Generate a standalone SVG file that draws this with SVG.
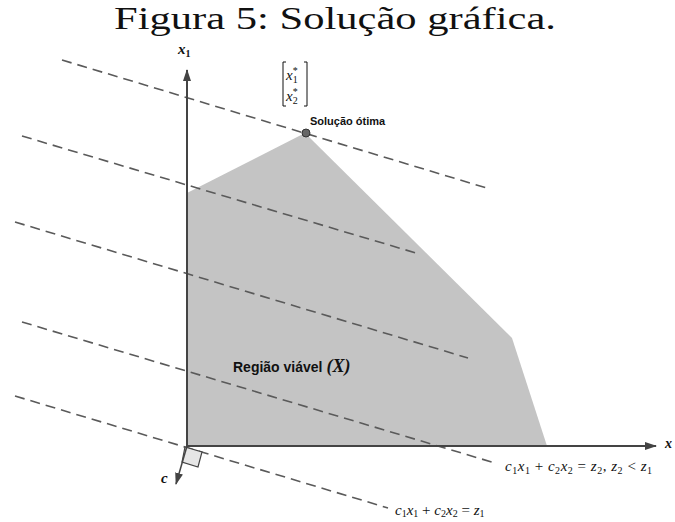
<svg xmlns="http://www.w3.org/2000/svg" width="675" height="522" viewBox="0 0 675 522">
<style>
.dash{stroke:#5a5a5a;stroke-width:1.6;stroke-dasharray:10,6;fill:none}
.axis{stroke:#444;stroke-width:2;fill:none}
.math{font-family:"Liberation Serif","DejaVu Serif",serif;font-style:italic;fill:#111}
.lbl{font-family:"Liberation Sans",Arial,sans-serif;font-weight:bold;fill:#111}
</style>
<defs>
<marker id="ah" viewBox="0 0 12 8" refX="11" refY="4" markerWidth="12" markerHeight="8" markerUnits="userSpaceOnUse" orient="auto">
<path d="M0,0 L12,4 L0,8 Z" fill="#444"/>
</marker>
</defs>
<rect width="675" height="522" fill="#fff"/>
<text x="114" y="29" font-family="'Liberation Serif','DejaVu Serif',serif" font-size="31" textLength="442" lengthAdjust="spacingAndGlyphs" fill="#111">Figura 5: Solução gráfica.</text>
<g id="region">
<polygon points="187,446 187,193 305,133 512,338 547,446" fill="#c4c4c4"/>
<text x="233" y="372" class="lbl" font-size="14">Região viável <tspan class="math" font-weight="bold" font-style="normal" font-size="18">(</tspan><tspan class="math" font-weight="bold" font-size="18">X</tspan><tspan class="math" font-weight="bold" font-style="normal" font-size="18">)</tspan></text>
</g>
<g id="connectors">
<line class="dash" x1="62" y1="60" x2="490" y2="189"/>
<line class="dash" x1="22" y1="136" x2="416" y2="253"/>
<line class="dash" x1="15" y1="222" x2="468" y2="358"/>
<line class="dash" x1="22" y1="322" x2="495" y2="463"/>
<line class="dash" x1="15" y1="396" x2="388" y2="508"/>
</g>
<g id="axes">
<line class="axis" x1="187" y1="447" x2="187" y2="70" marker-end="url(#ah)"/>
<line class="axis" x1="186" y1="446" x2="656" y2="446" marker-end="url(#ah)"/>
<polygon points="185,447 202,452 198,467 182,462" fill="#e6e6e6" stroke="#444" stroke-width="1.2"/>
<line x1="187" y1="446" x2="176" y2="484" stroke="#444" stroke-width="1.5" marker-end="url(#ah)"/>
<text x="178" y="54" class="math" font-size="15" font-weight="bold">x<tspan font-size="10" dy="3" font-style="normal">1</tspan></text>
<text x="665" y="448" class="math" font-size="14" font-weight="bold">x</text>
<text x="161" y="483" class="math" font-size="15" font-weight="bold">c</text>
</g>
<g id="optimum">
<circle cx="306" cy="133" r="4" fill="#666" stroke="#333" stroke-width="1"/>
<text x="310" y="125" class="lbl" font-size="11">Solução ótima</text>
<path d="M286,62 H283 V106 H286 M304,62 H307 V106 H304" fill="none" stroke="#111" stroke-width="1"/>
<text x="286" y="80" class="math" font-size="15">x<tspan font-size="10" dy="3" font-style="normal">1</tspan><tspan font-size="10" dy="-9" dx="-5" font-style="normal">*</tspan></text>
<text x="286" y="101" class="math" font-size="15">x<tspan font-size="10" dy="3" font-style="normal">2</tspan><tspan font-size="10" dy="-9" dx="-5" font-style="normal">*</tspan></text>
</g>
<g id="labels">
<text x="505" y="471" class="math" font-size="15" textLength="147" lengthAdjust="spacing">c<tspan font-size="10" dy="3" font-style="normal">1</tspan><tspan dy="-3">x</tspan><tspan font-size="10" dy="3" font-style="normal">1</tspan><tspan dy="-3" font-style="normal"> + </tspan><tspan>c</tspan><tspan font-size="10" dy="3" font-style="normal">2</tspan><tspan dy="-3">x</tspan><tspan font-size="10" dy="3" font-style="normal">2</tspan><tspan dy="-3" font-style="normal"> = </tspan><tspan>z</tspan><tspan font-size="10" dy="3" font-style="normal">2</tspan><tspan dy="-3" font-style="normal">, </tspan><tspan>z</tspan><tspan font-size="10" dy="3" font-style="normal">2</tspan><tspan dy="-3" font-style="normal"> &lt; </tspan><tspan>z</tspan><tspan font-size="10" dy="3" font-style="normal">1</tspan></text>
<text x="395" y="515" class="math" font-size="15">c<tspan font-size="10" dy="2" font-style="normal">1</tspan><tspan dy="-2">x</tspan><tspan font-size="10" dy="2" font-style="normal">1</tspan><tspan dy="-2" font-style="normal"> + </tspan><tspan>c</tspan><tspan font-size="10" dy="2" font-style="normal">2</tspan><tspan dy="-2">x</tspan><tspan font-size="10" dy="2" font-style="normal">2</tspan><tspan dy="-2" font-style="normal"> = </tspan><tspan>z</tspan><tspan font-size="10" dy="2" font-style="normal">1</tspan></text>
</g>
</svg>
